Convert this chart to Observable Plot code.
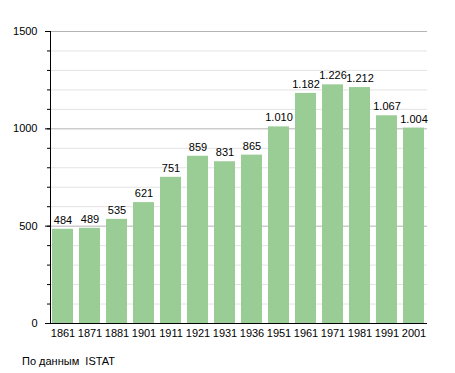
<!DOCTYPE html>
<html><head><meta charset="utf-8">
<script src="https://cdn.jsdelivr.net/npm/d3@7"></script>
<script src="https://cdn.jsdelivr.net/npm/@observablehq/plot@0.6"></script>
<style>
body{margin:0;background:#fff;font-family:"Liberation Sans",Arial,sans-serif;}
#cap{font-size:11px;color:#000;margin:10px 0 0 22px;}
</style></head><body>
<div id="chart"></div>
<div id="cap">По данным&nbsp; ISTAT</div>
<script>
const years = ["1861","1871","1881","1901","1911","1921","1931","1936","1951","1961","1971","1981","1991","2001"];
const population = [484,489,535,621,751,859,831,865,1010,1182,1226,1212,1067,1004];
const yTicks = [0,500,1000,1500];
const minorTicks = d3.range(0,1501,100);

const data = years.map((y,i)=>({year:y, value:population[i]}));
const fmt = d3.formatLocale({thousands:".", grouping:[3], decimal:",", currency:["",""]}).format(",");

const chart = Plot.plot({
  width:455, height:345,
  marginTop:31, marginBottom:22, marginLeft:50, marginRight:28,
  style:{fontFamily:"Liberation Sans, Arial, sans-serif", fontSize:"11px", color:"#000"},
  x:{domain:years, paddingInner:0.22, paddingOuter:0.02, label:null},
  y:{domain:[0,1500], label:null},
  marks:[
    Plot.ruleY(minorTicks.filter(d=>d%500!==0), {stroke:"#e3e3e3"}),
    Plot.ruleY(yTicks.filter(d=>d>0), {stroke:"#b4b4b4"}),
    Plot.barY(data, {x:"year", y:"value", fill:"#9acc96"}),
    Plot.text(data, {x:"year", y:"value", text:d=>fmt(d.value), dy:-9, fontSize:11, fill:"#000"}),
    Plot.axisY({ticks:yTicks, tickSize:5, tickPadding:8, tickFormat:"d", stroke:"#000", label:null}),
    Plot.axisY({ticks:minorTicks, tickSize:3, tickFormat:()=>"", stroke:"#000", label:null}),
    Plot.ruleY([0], {stroke:"#000"}),
    Plot.axisX({tickSize:0, tickPadding:6, label:null})
  ]
});
document.getElementById("chart").appendChild(chart);
const svg = d3.select(chart);
svg.append("line").attr("x1",50.5).attr("x2",50.5).attr("y1",31).attr("y2",323).attr("stroke","#000");
</script>
</body></html>
